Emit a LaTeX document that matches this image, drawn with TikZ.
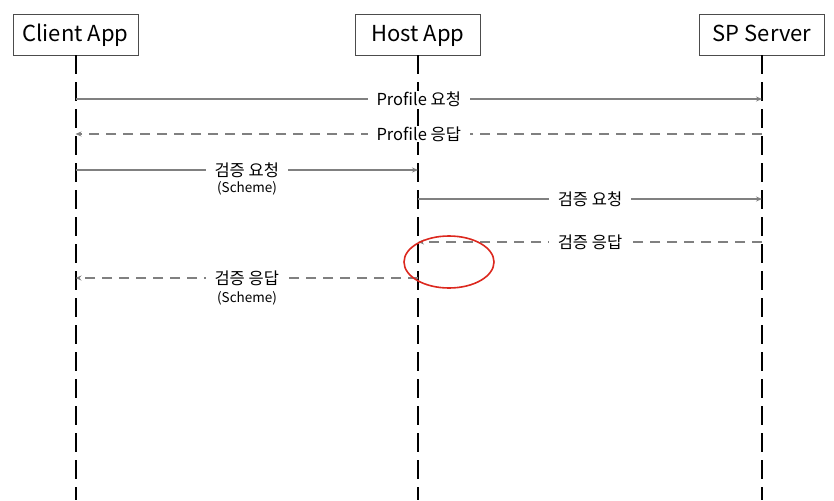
\documentclass[tikz,border=0pt]{standalone}
\usepackage{fontspec}
\setmainfont{Noto Sans CJK KR}
\usetikzlibrary{arrows.meta,shapes.geometric}
\definecolor{hlred}{RGB}{220,40,30}
\begin{document}
\begin{tikzpicture}[x=1pt,y=-1pt,
  actor/.style={draw=black!70,line width=0.6pt,minimum width=125pt,minimum height=41pt,font=\fontsize{22}{24}\selectfont,inner sep=0pt,text height=15pt,text depth=0pt},
  life/.style={line width=2pt,dash pattern=on 19pt off 8pt},
  msg/.style={draw=black!50,line width=1.5pt,-{Stealth[length=6pt,width=5pt]}},
  rmsg/.style={msg,dash pattern=on 10pt off 7pt},
  lbl/.style={fill=white,font=\fontsize{16.5}{18}\selectfont,inner xsep=9pt,inner ysep=1pt},
  sub/.style={font=\fontsize{13.5}{15}\selectfont,inner sep=0pt}]
\useasboundingbox (0,0) rectangle (834,500);
\node[actor] (c) at (75.5,34.5) {Client App};
\node[actor] (h) at (418,34.5) {Host App};
\node[actor] (s) at (762,34.5) {SP Server};
\coordinate (ce) at (75.5,500);
\coordinate (he) at (418,500);
\coordinate (se) at (762,500);
\draw[life] (c.south) -- (ce);
\draw[life] (h.south) -- (he);
\draw[life] (s.south) -- (se);
% messages
\coordinate (c1) at (75.5,99); \coordinate (s1) at (762,99);
\draw[msg] (c1) -- (s1) node[lbl,pos=0.5] (l1) {Profile 요청};
\coordinate (c2) at (75.5,134); \coordinate (s2) at (762,134);
\draw[rmsg] (s2) -- (c2) node[lbl,pos=0.5] (l2) {Profile 응답};
\coordinate (c3) at (75.5,170); \coordinate (h3) at (418,170);
\draw[msg] (c3) -- (h3) node[lbl,pos=0.5] (l3) {검증 요청};
\node[sub] (l3s) at (247,188) {(Scheme)};
\coordinate (h4) at (418,199); \coordinate (s4) at (762,199);
\draw[msg] (h4) -- (s4) node[lbl,pos=0.5] (l4) {검증 요청};
\coordinate (s5) at (762,242); \coordinate (h5) at (418,242);
\draw[rmsg] (s5) -- (h5) node[lbl,pos=0.5] (l5) {검증 응답};
\coordinate (h6) at (418,278); \coordinate (c6) at (75.5,278);
\draw[rmsg] (h6) -- (c6) node[lbl,pos=0.5] (l6) {검증 응답};
\node[sub] (l6s) at (247,298) {(Scheme)};
% highlight
\node[draw=hlred,line width=1.6pt,ellipse,minimum width=90pt,minimum height=52pt] (hl) at (449,262) {};
\end{tikzpicture}
\end{document}
